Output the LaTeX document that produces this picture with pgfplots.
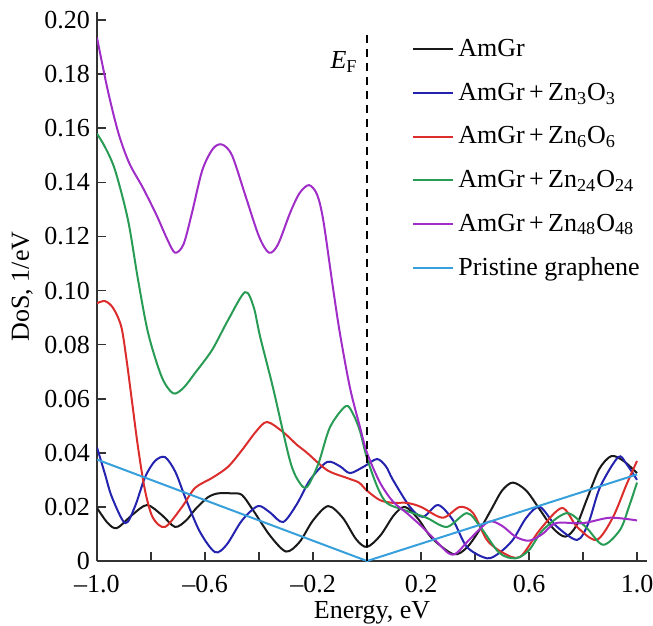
\documentclass[border=0pt]{standalone}
\usepackage{fontspec}
\setmainfont{Liberation Serif}
\usepackage{pgfplots}
\pgfplotsset{compat=1.18}

\definecolor{cAm}{RGB}{25,25,25}
\definecolor{cZnA}{RGB}{35,35,175}
\definecolor{cZnB}{RGB}{220,45,45}
\definecolor{cZnC}{RGB}{40,155,85}
\definecolor{cZnD}{RGB}{160,45,200}
\definecolor{cPri}{RGB}{55,160,220}

\begin{document}
\begin{tikzpicture}
\begin{axis}[
    scale only axis,
    width=275pt, height=274.5pt,
    xmin=-1, xmax=1.037,
    ymin=0, ymax=0.203,
    axis lines=left,
    axis line style={-, line width=1.4pt, draw=black!80},
    tick align=inside,
    major tick length=4.5pt,
    tick style={line width=0.8pt, draw=black!80},
    xtick={-1,-0.8,-0.6,-0.4,-0.2,0,0.2,0.4,0.6,0.8,1},
    xticklabels={\textendash1.0,,\textendash0.6,,\textendash0.2,,0.2,,0.6,,1.0},
    ytick={0,0.02,0.04,0.06,0.08,0.1,0.12,0.14,0.16,0.18,0.2},
    yticklabels={0,0.02,0.04,0.06,0.08,0.10,0.12,0.14,0.16,0.18,0.20},
    ticklabel style={font=\fontsize{13}{15}\selectfont},
    xticklabel style={yshift=-3.7pt},
    xlabel={Energy, eV},
    ylabel={DoS, 1/eV},
    label style={font=\fontsize{13}{15}\selectfont},
    xlabel style={at={(axis description cs:0.5,0)}, anchor=north, yshift=-16.5pt},
    ylabel style={at={(axis description cs:-0.136,0.5)}, anchor=center},
    legend style={at={(axis cs:0.1667,0.1945)}, anchor=north west,
        draw=none, fill=none, font=\fontsize{13}{15}\selectfont,
        row sep=7.7pt, inner sep=0pt},
    legend cell align=left,
    legend image code/.code={\draw[#1] (0pt,0pt) -- (20pt,0pt);},
    every axis plot/.append style={line width=1pt},
]
% AmGr
\addplot[cAm, smooth] coordinates {
(-1.0,0.0196) (-0.96,0.014) (-0.926,0.0122) (-0.87,0.017) (-0.815,0.0207)
(-0.76,0.017) (-0.711,0.0126) (-0.67,0.015) (-0.637,0.019) (-0.59,0.0235)
(-0.552,0.025) (-0.5,0.025) (-0.463,0.0244) (-0.42,0.0185) (-0.36,0.0095)
(-0.3,0.0035) (-0.25,0.007) (-0.2,0.015) (-0.144,0.0203) (-0.09,0.016)
(-0.04,0.008) (0.0,0.0052) (0.05,0.0095) (0.1,0.017) (0.141,0.020)
(0.19,0.0155) (0.24,0.0085) (0.32,0.0025) (0.37,0.005) (0.42,0.012)
(0.46,0.019) (0.5,0.026) (0.54,0.029) (0.59,0.026) (0.64,0.019)
(0.69,0.012) (0.735,0.009) (0.775,0.013) (0.815,0.023) (0.86,0.034)
(0.905,0.0388) (0.95,0.037) (1.0,0.0325)};
\addlegendentry{AmGr}
% AmGr+Zn3O3
\addplot[cZnA, smooth] coordinates {
(-1.0,0.042) (-0.97,0.032) (-0.945,0.0237) (-0.896,0.014) (-0.86,0.02)
(-0.822,0.031) (-0.785,0.037) (-0.748,0.0384) (-0.71,0.033) (-0.674,0.0237)
(-0.62,0.011) (-0.563,0.0033) (-0.52,0.006) (-0.463,0.015) (-0.404,0.0203)
(-0.36,0.018) (-0.311,0.0144) (-0.26,0.021) (-0.211,0.030) (-0.148,0.0366)
(-0.1,0.035) (-0.063,0.0325) (-0.01,0.035) (0.037,0.0377) (0.07,0.035)
(0.096,0.030) (0.159,0.020) (0.207,0.0163) (0.263,0.0207) (0.319,0.015)
(0.37,0.0052) (0.444,0.001) (0.49,0.003) (0.54,0.0078) (0.59,0.016)
(0.64,0.020) (0.7,0.013) (0.778,0.0078) (0.82,0.014) (0.863,0.0273)
(0.93,0.0384) (0.96,0.036) (1.0,0.030)};
\addlegendentry{AmGr\,+\,Zn\textsubscript{3}O\textsubscript{3}}
% AmGr+Zn6O6
\addplot[cZnB, smooth] coordinates {
(-1.0,0.0953) (-0.97,0.0961) (-0.94,0.0935) (-0.91,0.0866) (-0.89,0.074)
(-0.871,0.0595) (-0.848,0.042) (-0.822,0.026) (-0.793,0.016) (-0.748,0.0126)
(-0.685,0.020) (-0.637,0.027) (-0.574,0.0307) (-0.515,0.0348) (-0.463,0.041)
(-0.41,0.048) (-0.37,0.0514) (-0.311,0.0477) (-0.26,0.043) (-0.222,0.040)
(-0.148,0.0336) (-0.074,0.0307) (-0.03,0.029) (0,0.026) (0.048,0.0225)
(0.096,0.0215) (0.148,0.0215) (0.2,0.020) (0.28,0.016) (0.344,0.020)
(0.393,0.0177) (0.444,0.0078) (0.504,0.003) (0.567,0.0015) (0.64,0.0115)
(0.722,0.0196) (0.778,0.0126) (0.85,0.0078) (0.91,0.016) (0.96,0.028)
(1.0,0.037)};
\addlegendentry{AmGr\,+\,Zn\textsubscript{6}O\textsubscript{6}}
% AmGr+Zn24O24
\addplot[cZnC, smooth] coordinates {
(-1.0,0.158) (-0.97,0.153) (-0.933,0.1445) (-0.885,0.126) (-0.848,0.104)
(-0.81,0.084) (-0.76,0.068) (-0.718,0.062) (-0.68,0.064) (-0.637,0.0695)
(-0.574,0.078) (-0.515,0.089) (-0.452,0.0994) (-0.42,0.094) (-0.396,0.083)
(-0.348,0.064) (-0.285,0.037) (-0.25,0.029) (-0.222,0.0274) (-0.18,0.036)
(-0.137,0.0495) (-0.078,0.0573) (-0.05,0.054) (-0.026,0.048) (0,0.038)
(0.04,0.027) (0.074,0.0214) (0.133,0.019) (0.22,0.016) (0.296,0.0126)
(0.37,0.0177) (0.42,0.0126) (0.49,0.003) (0.55,0.001) (0.6,0.004)
(0.652,0.0115) (0.74,0.0177) (0.81,0.0126) (0.874,0.006) (0.937,0.0115)
(0.97,0.02) (1.0,0.029)};
\addlegendentry{AmGr\,+\,Zn\textsubscript{24}O\textsubscript{24}}
% AmGr+Zn48O48
\addplot[cZnD, smooth] coordinates {
(-1.0,0.1935) (-0.96,0.174) (-0.92,0.158) (-0.88,0.147) (-0.83,0.138)
(-0.78,0.128) (-0.74,0.119) (-0.711,0.114) (-0.68,0.117) (-0.65,0.128)
(-0.61,0.1445) (-0.57,0.1525) (-0.537,0.154) (-0.5,0.150) (-0.45,0.135)
(-0.4,0.12) (-0.363,0.114) (-0.33,0.117) (-0.285,0.1287) (-0.25,0.136)
(-0.215,0.139) (-0.185,0.1355) (-0.162,0.126) (-0.126,0.101) (-0.1,0.084)
(-0.063,0.064) (-0.026,0.0495) (0,0.040) (0.048,0.029) (0.096,0.022)
(0.15,0.0175) (0.2,0.013) (0.25,0.008) (0.3,0.003) (0.33,0.0028)
(0.38,0.008) (0.45,0.0145) (0.5,0.013) (0.55,0.009) (0.6,0.0075)
(0.65,0.010) (0.7,0.014) (0.8,0.014) (0.9,0.016) (1.0,0.015)};
\addlegendentry{AmGr\,+\,Zn\textsubscript{48}O\textsubscript{48}}
% pristine graphene
\addplot[cPri] coordinates {(-1,0.0375) (0,0) (1,0.032)};
\addlegendentry{Pristine graphene}
% Fermi level
\addplot[black, line width=1.1pt, dash pattern=on 4pt off 3pt, forget plot]
    coordinates {(0,0) (0,0.1955)};
\node[font=\fontsize{13}{15}\selectfont] at (axis cs:-0.085,0.1845)
    {\itshape E\upshape\textsubscript{F}};
\end{axis}
\pgfresetboundingbox
\path[use as bounding box] (-48.5pt,-32.5pt) rectangle (278pt,280.5pt);
\end{tikzpicture}
\end{document}
